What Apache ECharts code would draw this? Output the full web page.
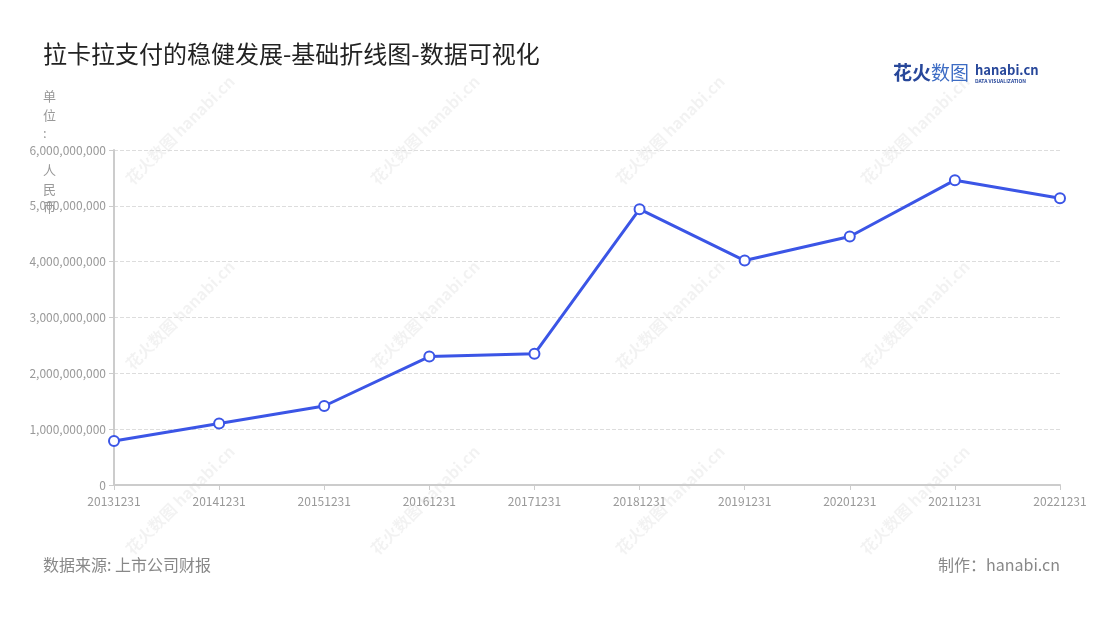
<!DOCTYPE html>
<html lang="zh">
<head>
    <meta charset="UTF-8">
    <title>拉卡拉支付的稳健发展-基础折线图-数据可视化</title>
    <style>
        html, body {
            margin: 0;
            padding: 0;
            background: #fff;
        }
        #chart {
            width: 1100px;
            height: 620px;
        }
    </style>
    <script src="https://cdn.jsdelivr.net/npm/echarts@6/dist/echarts.min.js"></script>
</head>
<body>
    <div id="chart"></div>
    <script>
        // 报告期
        const dates = ['20131231', '20141231', '20151231', '20161231', '20171231',
                       '20181231', '20191231', '20201231', '20211231', '20221231'];
        // 营业收入（元）
        const revenue = [788000000, 1100000000, 1415000000, 2300000000, 2350000000,
                         4940000000, 4020000000, 4450000000, 5460000000, 5135000000];
        const yUnit = '单位: 人民币';

        const font = "'Noto Sans CJK SC', 'Noto Sans', sans-serif";

        // 水印
        const marks = [];
        [180, 425, 670, 915].forEach(x => {
            [130, 315, 500].forEach(y => {
                marks.push({
                    type: 'text',
                    x: x, y: y,
                    rotation: Math.PI / 4,
                    z: -10,
                    silent: true,
                    style: {
                        text: '花火数图 hanabi.cn',
                        fill: 'rgba(0,0,0,0.05)',
                        font: 'bold 16px ' + font,
                        align: 'center',
                        verticalAlign: 'middle'
                    }
                });
            });
        });

        const chart = echarts.init(document.getElementById('chart'));
        chart.setOption({
            animation: false,
            textStyle: { fontFamily: font },
            title: {
                text: '拉卡拉支付的稳健发展-基础折线图-数据可视化',
                left: 38,
                top: 37,
                textStyle: { fontSize: 24, fontWeight: 'normal', color: '#222' }
            },
            grid: { left: 114, right: 40, top: 150, bottom: 135 },
            xAxis: {
                type: 'category',
                data: dates,
                boundaryGap: false,
                axisLine: { lineStyle: { color: '#ccc', width: 2 } },
                axisTick: { show: true, lineStyle: { color: '#ccc' } },
                axisLabel: { color: '#999', fontSize: 12, margin: 10 }
            },
            yAxis: {
                type: 'value',
                min: 0,
                max: 6000000000,
                interval: 1000000000,
                axisLine: { show: true, lineStyle: { color: '#ccc', width: 2 } },
                axisTick: { show: true, lineStyle: { color: '#ccc' } },
                axisLabel: {
                    color: '#999',
                    fontSize: 12,
                    margin: 8,
                    formatter: v => v.toLocaleString('en-US')
                },
                splitLine: { lineStyle: { color: '#ddd', type: 'dashed' } }
            },
            series: [{
                type: 'line',
                data: revenue,
                symbol: 'emptyCircle',
                symbolSize: 10,
                lineStyle: { color: '#3b55e6', width: 3 },
                itemStyle: { color: '#3b55e6', borderWidth: 2 }
            }],
            graphic: marks.concat([
                {
                    type: 'text',
                    left: 43, top: 87,
                    style: {
                        text: yUnit.split('').join('\n'),
                        fill: '#999',
                        font: '13px ' + font,
                        lineHeight: 18.5,
                        align: 'center'
                    }
                },
                {
                    type: 'text',
                    left: 893, top: 63,
                    style: {
                        rich: {
                            a: { fill: '#27479a', fontSize: 19, fontWeight: 'bold', fontFamily: font },
                            b: { fill: '#3d6cc4', fontSize: 19, fontFamily: font }
                        },
                        text: '{a|花火}{b|数图}'
                    }
                },
                {
                    type: 'text',
                    left: 975, top: 64,
                    style: {
                        text: 'hanabi.cn',
                        fill: '#27479a',
                        font: 'bold 13px ' + font
                    }
                },
                {
                    type: 'text',
                    left: 975, top: 79,
                    style: {
                        text: 'DATA VISUALIZATION',
                        fill: '#27479a',
                        font: 'bold 5px ' + font
                    }
                },
                {
                    type: 'text',
                    left: 43, top: 557,
                    style: {
                        text: '数据来源: 上市公司财报',
                        fill: '#888',
                        font: '16px ' + font
                    }
                },
                {
                    type: 'text',
                    right: 40, top: 557,
                    style: {
                        text: '制作：hanabi.cn',
                        fill: '#888',
                        font: '16px ' + font
                    }
                }
            ])
        });
    </script>
</body>
</html>
